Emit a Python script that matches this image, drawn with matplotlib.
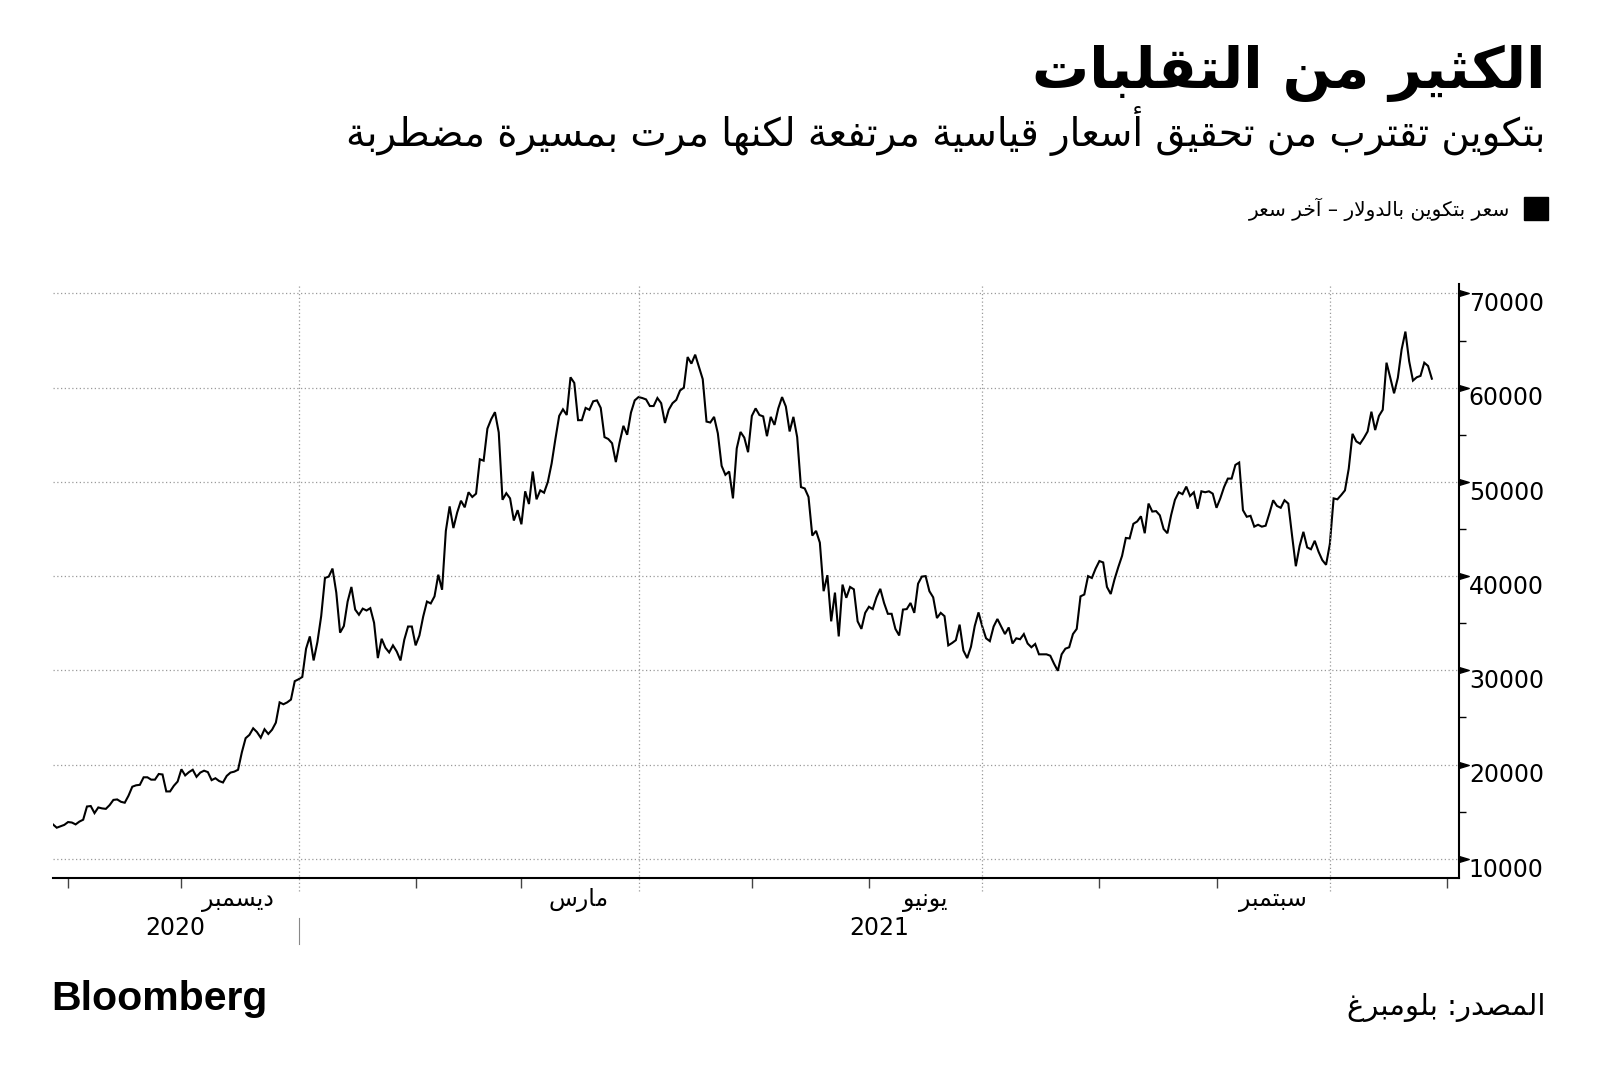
import numpy as np
import pandas as pd
import matplotlib
matplotlib.use('Agg')
import matplotlib.pyplot as plt
from matplotlib.patches import Rectangle
from matplotlib.transforms import ScaledTranslation, blended_transform_factory

# --- data (Bitcoin price, USD, daily) ---
start_date = '2020-10-28'
prices = [
    13650, 13300, 13450, 13600,                                   # Oct 2020
    13900, 13850, 13650, 13950, 14150, 15550, 15600, 14850, 15450, 15350,
    15300, 15700, 16250, 16300, 16050, 15950, 16700, 17650, 17800, 17850,
    18650, 18650, 18400, 18400, 19000, 18950, 17150, 17150, 17750, 18200,  # Nov
    19500, 18850, 19200, 19450, 18700, 19150, 19350, 19200, 18350, 18550,
    18250, 18100, 18800, 19150, 19250, 19450, 21300, 22800, 23150, 23850,
    23450, 22850, 23750, 23250, 23700, 24450, 26600, 26400, 26600, 26900,
    28850,                                                        # Dec
    29050, 29300, 32300, 33600, 31050, 33000, 35750, 39800, 39950, 40800,
    38250, 34000, 34700, 37300, 38850, 36450, 35900, 36550, 36350, 36600,
    35050, 31300, 33350, 32400, 31900, 32650, 32000, 31050, 33250, 34650,
    34650,                                                        # Jan 2021
    32650, 33700, 35700, 37300, 37100, 37850, 40150, 38550, 44800, 47400,
    45100, 46750, 48000, 47300, 48900, 48400, 48750, 52400, 52250, 55650,
    56650, 57400, 55250, 48100, 48800, 48250, 45900, 47000,       # Feb
    45500, 49000, 47650, 51100, 48150, 49100, 48850, 50000, 51950, 54550,
    57000, 57700, 57100, 61100, 60500, 56550, 56550, 57850, 57650, 58550,
    58650, 57850, 54750, 54550, 54100, 52100, 54200, 55950, 55000, 57350,
    58650,                                                        # Mar
    59000, 58900, 58750, 58050, 58050, 58900, 58350, 56250, 57650, 58350,
    58700, 59700, 60000, 63250, 62550, 63500, 62200, 60900, 56400, 56300,
    56900, 55150, 51700, 50750, 51100, 48250, 53550, 55300, 54700, 53150,  # Apr
    57000, 57800, 57100, 56950, 54850, 56900, 56050, 57800, 59000, 58000,
    55350, 56900, 54750, 49450, 49300, 48400, 44300, 44800, 43550, 38400,
    40100, 35200, 38250, 33600, 39100, 37700, 38850, 38600, 35200, 34400,
    36100,                                                        # May
    36750, 36500, 37750, 38650, 37150, 36000, 36000, 34400, 33700, 36450,
    36500, 37150, 36100, 39200, 39950, 40000, 38400, 37750, 35550, 36100,
    35750, 32650, 32900, 33200, 34850, 32100, 31300, 32500, 34700, 36150,  # Jun
    34650, 33400, 33100, 34650, 35450, 34650, 33850, 34550, 32850, 33400,
    33300, 33850, 32850, 32450, 32800, 31700, 31700, 31700, 31550, 30700,
    29950, 31700, 32300, 32450, 33850, 34400, 37850, 38050, 40000, 39800,
    40800,                                                        # Jul
    41600, 41450, 38850, 38100, 39650, 40950, 42150, 44050, 44000, 45550,
    45800, 46350, 44550, 47700, 46850, 46900, 46450, 45000, 44550, 46500,
    48100, 48900, 48700, 49500, 48500, 48900, 47150, 49000, 48900, 49000,
    48750,                                                        # Aug
    47250, 48250, 49450, 50350, 50350, 51800, 52050, 47000, 46300, 46400,
    45250, 45450, 45250, 45350, 46650, 48050, 47450, 47250, 48050, 47700,
    44300, 41050, 43200, 44700, 43050, 42850, 43750, 42600, 41700, 41200,  # Sep
    43400, 48250, 48150, 48600, 49100, 51400, 55100, 54300, 54050, 54650,
    55350, 57450, 55500, 57000, 57650, 62650, 61050, 59400, 61050, 64050,
    65950, 62800, 60750, 61100, 61250, 62650, 62300, 60950,       # Oct
]

y_ticks = [10000, 20000, 30000, 40000, 50000, 60000, 70000]
month_labels = ['ديسمبر', 'مارس', 'يونيو', 'سبتمبر']
month_label_dates = ['2020-12-16', '2021-03-16', '2021-06-16', '2021-09-16']
quarter_starts = ['2021-01-01', '2021-04-01', '2021-07-01', '2021-10-01']
year_labels = ['2020', '2021']

title = 'الكثير من التقلبات'
subtitle = 'بتكوين تقترب من تحقيق أسعار قياسية مرتفعة لكنها مرت بمسيرة مضطربة'
legend_text = 'سعر بتكوين بالدولار – آخر سعر'
source = 'المصدر: بلومبرغ'


# matplotlib has no arabic shaping, so map letters to their presentation
# forms (isolated, final, initial, medial) and reverse for right-to-left
letters = [chr(c) for c in range(0x621, 0x63B)] + [chr(c) for c in range(0x641, 0x64B)]
right_only = 'آأؤإادذرزةوى'
AR_FORMS = {}
code = 0xFE80
for ch in letters:
    n = 1 if ch == 'ء' else (2 if ch in right_only else 4)
    AR_FORMS[ch] = [code + i for i in range(n)]
    code += n
LAM_ALEF = {'آ': 0xFEF5, 'أ': 0xFEF7, 'إ': 0xFEF9, 'ا': 0xFEFB}


def ar(text):
    out = []
    i = 0
    while i < len(text):
        ch = text[i]
        if ch not in AR_FORMS:
            out.append(ch)
            i += 1
            continue
        prev = text[i - 1] if i > 0 else ''
        joins_prev = prev in AR_FORMS and len(AR_FORMS[prev]) == 4
        nxt = text[i + 1] if i + 1 < len(text) else ''
        if ch == 'ل' and nxt in LAM_ALEF:
            out.append(chr(LAM_ALEF[nxt] + (1 if joins_prev else 0)))
            i += 2
            continue
        forms = AR_FORMS[ch]
        joins_next = len(forms) == 4 and nxt in AR_FORMS
        if len(forms) == 1:
            f = forms[0]
        elif joins_prev and joins_next:
            f = forms[3]
        elif joins_prev:
            f = forms[1]
        elif joins_next:
            f = forms[2]
        else:
            f = forms[0]
        out.append(chr(f))
        i += 1
    return ''.join(reversed(out))


plt.rcParams['font.family'] = ['DejaVu Sans']

dates = pd.date_range(start_date, periods=len(prices), freq='D')

fig = plt.figure(figsize=(16, 10.77), dpi=100)
ax = fig.add_axes([0.0331, 0.1851, 0.8788, 0.5512])

ax.plot(dates, prices, color='black', lw=1.5, solid_joinstyle='miter')
ax.set_xlim(dates[0], dates[0] + pd.Timedelta(days=372.2))
ax.set_ylim(8000, 71000)

grid_col = '#9a9a9a'
dots = (0, (1, 2))
ax.set_yticks(y_ticks)
ax.set_yticks(np.arange(15000, 70000, 10000), minor=True)
ax.yaxis.grid(True, which='major', color=grid_col, ls=dots, lw=0.9)
for q in quarter_starts:
    ax.axvline(pd.Timestamp(q), ymin=-0.022, ymax=1, color=grid_col, ls=dots,
               lw=0.9, clip_on=False)

for s in ['left', 'top']:
    ax.spines[s].set_visible(False)
for s in ['right', 'bottom']:
    ax.spines[s].set_linewidth(1.5)
    ax.spines[s].set_color('black')

ax.yaxis.tick_right()
ax.tick_params(axis='y', which='major', length=0, pad=7, labelsize=17)
ax.tick_params(axis='y', which='minor', length=5, width=1, color='black')
down = ScaledTranslation(0, -6 / 72, fig.dpi_scale_trans)
for t in ax.yaxis.get_major_ticks():
    t.label2.set_transform(t.label2.get_transform() + down)

# little arrow heads on the value axis
ax.plot(np.ones(len(y_ticks)), y_ticks, ls='none', color='black',
        marker=[(0, -0.3), (1, 0), (0, 0.3)], ms=14,
        transform=ax.get_yaxis_transform(), clip_on=False)

# month ticks along the bottom (quarters get the dotted line instead)
month_starts = pd.date_range('2020-11-01', '2021-11-01', freq='MS')
minor_months = [m for m in month_starts if m.month not in (1, 4, 7, 10)]
ax.set_xticks([])
ax.set_xticks(minor_months, minor=True)
ax.tick_params(axis='x', which='minor', length=7, width=1, color='#444444')

xt = blended_transform_factory(ax.transData, ax.transAxes)
for d, lab in zip(month_label_dates, month_labels):
    ax.text(pd.Timestamp(d), -0.038, ar(lab), transform=xt, ha='center',
            va='center', fontsize=17)

jan1 = pd.Timestamp(quarter_starts[0])
x0, x1 = ax.get_xlim()
j = matplotlib.dates.date2num(jan1)
ax.text((x0 + j) / 2, -0.084, year_labels[0], transform=xt, ha='center',
        va='center', fontsize=17)
ax.text((j + x1) / 2, -0.084, year_labels[1], transform=xt, ha='center',
        va='center', fontsize=17)
ax.plot([jan1, jan1], [-0.068, -0.112], transform=xt, clip_on=False,
        color='#888888', lw=0.8)

# titles and notes
fig.text(0.966, 0.918, ar(title), ha='right', va='baseline', fontsize=41,
         fontweight='bold')
fig.text(0.966, 0.8644, ar(subtitle), ha='right', va='baseline', fontsize=27.8)
fig.patches.append(Rectangle((1523.5 / 1600, 1 - 220 / 1077), 24.5 / 1600,
                             23 / 1077, transform=fig.transFigure,
                             color='black'))
fig.text(1510 / 1600, 0.7994, ar(legend_text), ha='right', va='baseline',
         fontsize=14.5)
fig.text(0.966, 0.0576, ar(source), ha='right', va='baseline', fontsize=21)
fig.text(0.032, 0.0622, 'Bloomberg', ha='left', va='baseline', fontsize=29.5,
         fontweight='bold', family=['Liberation Sans', 'DejaVu Sans'])

fig.savefig('out.png', dpi=100, facecolor='white')
